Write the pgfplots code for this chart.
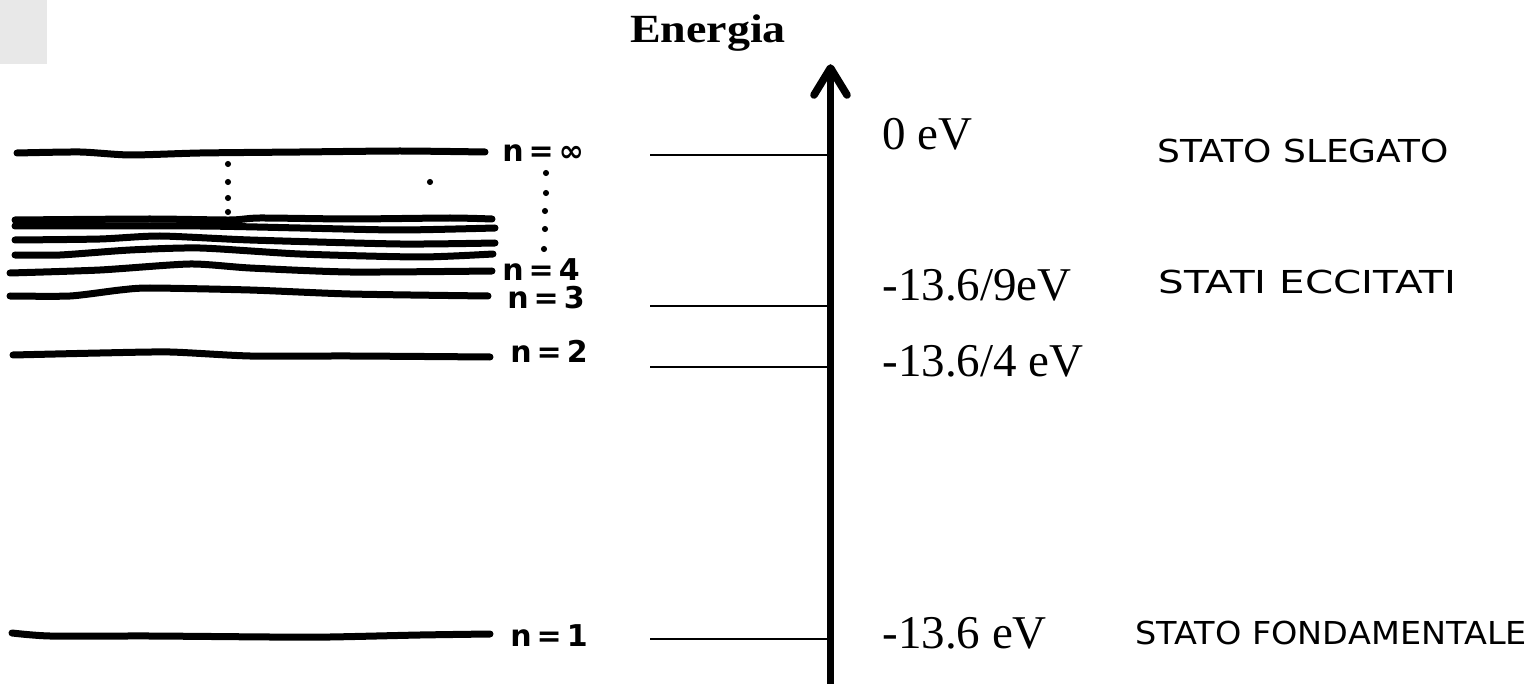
\documentclass[border=0pt]{standalone}
\usepackage{fontspec}
\setmainfont{Liberation Serif}
\newfontfamily\hand{DejaVu Sans}
\usepackage{graphicx}
\usepackage{pgfplots}
\pgfplotsset{compat=1.18}
\pgfplotsset{
  lvl/.style={black, line width=3.5pt, line cap=round, line join=round, smooth, tension=0.4, mark=none},
  thin/.style={black, line width=0.75pt, mark=none},
  dots/.style={black, only marks, mark=*, mark size=1.3pt},
}
\tikzset{nlab/.style={anchor=base west, inner sep=0pt, font=\hand\bfseries\fontsize{15}{15}\selectfont}}
\begin{document}
\begin{tikzpicture}
\begin{axis}[name=ax, width=768.5pt, height=342pt, scale only axis, hide axis,
  xmin=0, xmax=1537, ymin=0, ymax=684, y dir=reverse, clip=false]
% grey box
\addplot[fill={rgb,255:red,232;green,232;blue,232}, draw=none, mark=none]
  coordinates {(0,0) (47,0) (47,64) (0,64)} -- cycle;
% hand-drawn levels
\addplot[lvl] coordinates {(17,153) (80,152) (130,155) (200,153) (300,152) (400,151) (485,152)};
\addplot[lvl] coordinates {(15,220) (150,219) (230,220) (260,218) (350,219) (450,218) (492,219)};
\addplot[lvl] coordinates {(15,226) (200,226) (300,228) (400,230) (495,228)};
\addplot[lvl] coordinates {(15,240) (100,239) (160,236) (250,240) (400,244) (495,243)};
\addplot[lvl] coordinates {(15,255) (60,255) (130,250) (200,248) (300,254) (420,257) (493,254)};
\addplot[lvl] coordinates {(10,273) (100,270) (190,264) (250,268) (350,272) (492,271)};
\addplot[lvl] coordinates {(10,296) (70,296) (120,290) (150,288) (250,290) (350,294) (488,296)};
\addplot[lvl] coordinates {(13,355) (100,353) (170,352) (250,356) (350,356) (490,357)};
\addplot[lvl] coordinates {(12,633) (50,636) (150,636) (270,637) (330,637) (420,635) (490,634)};
% dots
\addplot[dots] coordinates {(228,164) (228,182) (228,198) (228,212)};
\addplot[dots] coordinates {(546,173) (546,193) (545,211) (545,229) (544,249)};
\addplot[dots] coordinates {(430,182)};
% hand labels n
\node[nlab] at (axis cs:502,162) {n\,=\,∞};
\node[nlab] at (axis cs:502,281) {n\,=\,4};
\node[nlab] at (axis cs:507,309) {n\,=\,3};
\node[nlab] at (axis cs:510,363) {n\,=\,2};
\node[nlab] at (axis cs:510,646) {n\,=\,1};
% thin lines
\addplot[thin] coordinates {(650,155) (829,155)};
\addplot[thin] coordinates {(650,306) (829,306)};
\addplot[thin] coordinates {(650,367) (829,367)};
\addplot[thin] coordinates {(650,639) (829,639)};
% arrow
\addplot[black, line width=3.8pt, mark=none] coordinates {(830.5,684) (830.5,72)};
\addplot[black, line width=3.8pt, line cap=round, line join=round, mark=none] coordinates {(814,95) (830.5,68) (847,95)};
% title
\node[anchor=base, inner sep=0pt] at (axis cs:708,43) {\scalebox{1.15}[1]{\fontsize{20}{20}\selectfont\bfseries Energia}};
% energy labels
\node[anchor=base west, inner sep=0pt, font=\fontsize{23.5}{23.5}\selectfont] at (axis cs:882,150) {0 eV};
\node[anchor=base west, inner sep=0pt, font=\fontsize{23.5}{23.5}\selectfont] at (axis cs:882,300) {-13.6/9eV};
\node[anchor=base west, inner sep=0pt, font=\fontsize{23.5}{23.5}\selectfont] at (axis cs:882,377) {-13.6/4 eV};
\node[anchor=base west, inner sep=0pt, font=\fontsize{23.5}{23.5}\selectfont] at (axis cs:882,648) {-13.6 eV};
% state labels
\node[anchor=base west, inner sep=0pt] at (axis cs:1157,163) {\scalebox{1.14}[1]{\hand\fontsize{15.8}{15.8}\selectfont STATO SLEGATO}};
\node[anchor=base west, inner sep=0pt] at (axis cs:1158,293) {\scalebox{1.28}[1]{\hand\fontsize{15.8}{15.8}\selectfont STATI ECCITATI}};
\node[anchor=base west, inner sep=0pt] at (axis cs:1135,644) {\scalebox{1.06}[1]{\hand\fontsize{15.8}{15.8}\selectfont STATO FONDAMENTALE}};
\end{axis}
\pgfresetboundingbox
\path (ax.south west) rectangle (ax.north east);
\end{tikzpicture}
\end{document}
